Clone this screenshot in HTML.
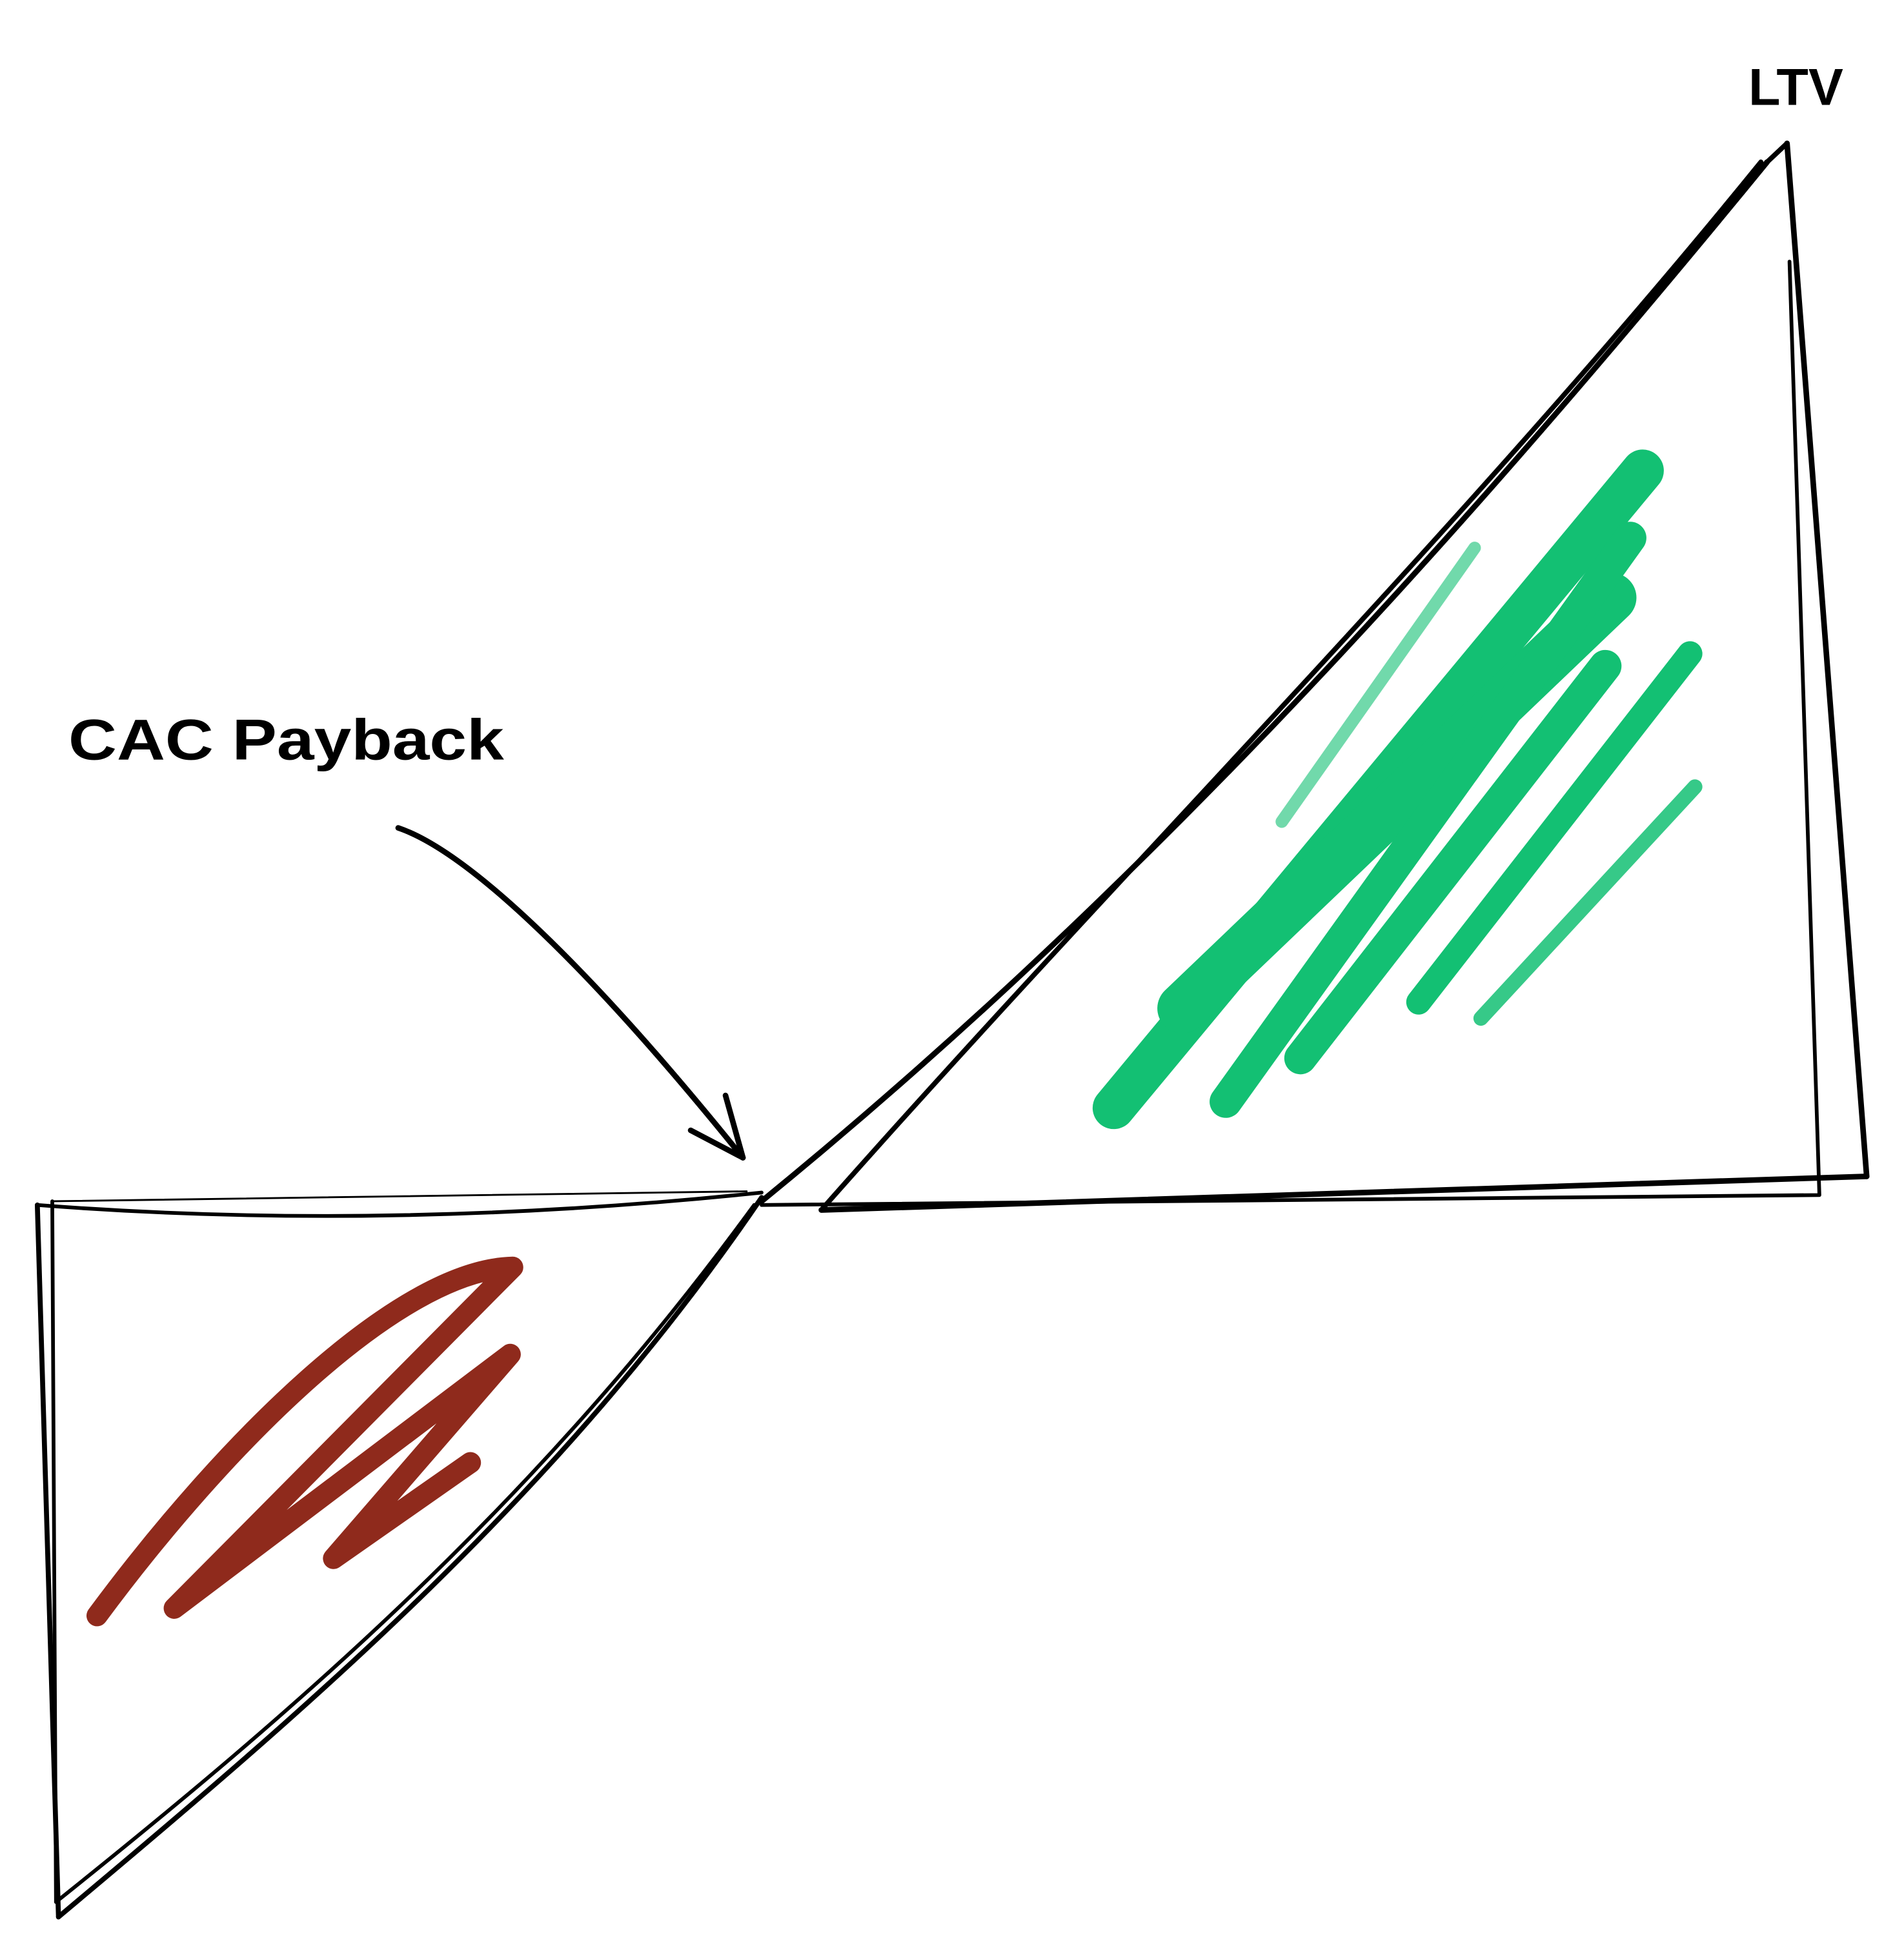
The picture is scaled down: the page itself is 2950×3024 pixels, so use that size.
<!DOCTYPE html>
<html><head><style>html,body{margin:0;padding:0;background:#fff}svg{display:block}</style></head>
<body>
<svg width="2950" height="3024" viewBox="0 0 1530 1568" xmlns="http://www.w3.org/2000/svg">
<rect width="1530" height="1568" fill="#fff"/>
<g fill="none" stroke="#000" stroke-linecap="round" stroke-linejoin="round">
<path d="M30,968 L47,1540" stroke-width="4"/>
<path d="M42,965 L45,1528" stroke-width="3"/>
<path d="M47,1540 C250,1370 450,1200 612,962" stroke-width="4"/>
<path d="M45,1528 C230,1380 430,1210 606,968" stroke-width="3"/>
<path d="M30,968 C250,985 450,975 612,958" stroke-width="3"/>
<path d="M42,965 L600,957" stroke-width="1.5"/>
<path d="M612,965 C900,730 1150,460 1420,130" stroke-width="4.5"/>
<path d="M660,972 C900,700 1180,420 1415,130" stroke-width="4"/>
<path d="M1436,115 L1420,130" stroke-width="4"/>
<path d="M1436,115 L1500,945" stroke-width="4.5"/>
<path d="M1500,945 L660,972" stroke-width="4.5"/>
<path d="M1438,210 L1462,960 L612,968" stroke-width="3"/>
<path d="M320,665 C370,682 460,760 597,930" stroke-width="4.5"/>
<path d="M555,908 L597,930 L583,880" stroke-width="4.5"/>
</g>
<path d="M78,1298 C180,1160 320,1020 412,1018 L140,1292 L410,1088 L268,1252 L378,1175" fill="none" stroke="#8f2a1c" stroke-width="17" stroke-linecap="round" stroke-linejoin="round"/>
<g stroke="#13c073" stroke-linecap="round" fill="none">
<path d="M895,890 L1320,378" stroke-width="34"/>
<path d="M950,810 L1295,480" stroke-width="40"/>
<path d="M985,885 L1310,432" stroke-width="26"/>
<path d="M1045,850 L1290,535" stroke-width="26"/>
<path d="M1140,805 L1358,525" stroke-width="20"/>
<path d="M1190,818 L1362,632" stroke-width="12" opacity="0.85"/>
<path d="M1030,660 L1185,440" stroke-width="10" opacity="0.6"/>
</g>
<g font-family="'Comic Sans MS','Liberation Sans',sans-serif" font-weight="bold" fill="#000">
<text x="55" y="610" font-size="46" textLength="350" lengthAdjust="spacingAndGlyphs">CAC Payback</text>
<text x="1405" y="84" font-size="42">LTV</text>
</g>
</svg>
</body></html>
